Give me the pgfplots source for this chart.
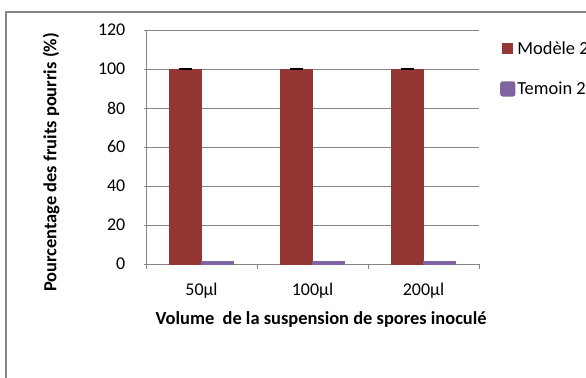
\documentclass[border=0pt]{standalone}
\usepackage{pgfplots}
\pgfplotsset{compat=1.18}
\usepackage{fontspec}
\setmainfont{Carlito}

\definecolor{modele}{RGB}{148,54,52}
\definecolor{temoin}{RGB}{128,100,162}
\definecolor{gridgray}{RGB}{134,134,134}

% percentage of rotten fruits per inoculated volume
\pgfplotstableread{
x  modele err  temoin
0  100    0    1
1  100    0    1
2  100    0    1
}\rotdata

\begin{document}
\begin{tikzpicture}
% chart frame
\draw[gridgray, line width=1.3bp] (6bp,-400bp) -- (6bp,-12bp) -- (640bp,-12bp);
\begin{axis}[
  at={(146bp,-264bp)}, anchor=south west,
  scale only axis, width=333bp, height=234bp,
  ymin=0, ymax=120, ytick={0,20,...,120},
  xmin=-0.5, xmax=2.5,
  xtick={0,1,2}, xticklabels={50µl,100µl,200µl},
  minor xtick={-0.5,0.5,1.5,2.5},
  major x tick style={draw=none},
  minor tick length=5bp, major tick length=5bp,
  tick align=outside,
  tick style={gridgray, line width=0.9bp},
  axis lines=left,
  axis line style={-, gridgray, line width=0.9bp},
  ymajorgrids, grid style={gridgray, line width=0.9bp},
  /pgf/number format/assume math mode=true,
  tick label style={font=\fontsize{18}{21}\selectfont},
  yticklabel style={inner sep=0pt, anchor=east, xshift=-18bp},
  xticklabel style={inner sep=0pt, anchor=base, yshift=-26bp},
  ybar=0pt, bar width=32bp,
  xlabel={\bfseries Volume\ \ de la suspension de spores inoculé},
  ylabel={\bfseries Pourcentage des fruits pourris (\%)},
  label style={font=\fontsize{18.5}{21}\selectfont},
  xlabel style={at={(axis description cs:0.526,-0.235)}, anchor=center},
  ylabel style={at={(axis description cs:-0.285,0.434)}, anchor=center},
  legend style={at={(1.063,0.96)}, anchor=north west, draw=none, fill=none,
    font=\fontsize{18.5}{21}\selectfont, row sep=22bp, inner sep=0pt,
    /tikz/every even column/.append style={column sep=3bp}},
  legend cell align=left,
  clip=false,
]
\addplot[fill=modele, draw=modele,
  error bars/.cd, y dir=both, y explicit,
  error bar style={black, line width=2bp},
  error mark options={black, line width=2bp, mark size=6.5bp, rotate=90}]
  table[x=x, y=modele, y error=err] {\rotdata};
\addlegendentry{Modèle 2}
\addplot[fill=temoin, draw=temoin, line width=1.2bp,
  legend image code/.code={\fill[temoin, rounded corners=2bp] (-1bp,-7bp) rectangle (13bp,7bp);}]
  table[x=x, y=temoin] {\rotdata};
\addlegendentry{Temoin 2}
\pgfplotsset{legend image code/.code={\fill[#1] (0bp,-5bp) rectangle (10bp,5bp);}}
\end{axis}
\pgfresetboundingbox
\useasboundingbox (0bp,0bp) rectangle (586bp,-378bp);
\end{tikzpicture}
\end{document}
